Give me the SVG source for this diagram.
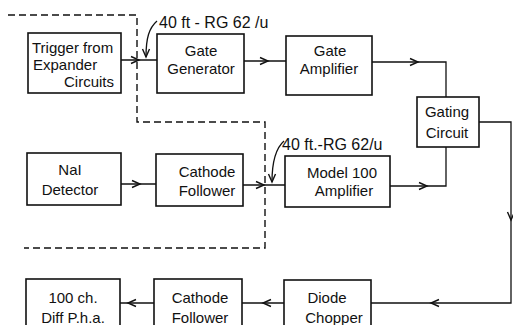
<svg xmlns="http://www.w3.org/2000/svg" width="513" height="325" viewBox="0 0 513 325">
<style>
.box{fill:#fff;stroke:#111;stroke-width:1.6}
.t{font-family:"Liberation Sans",Arial,sans-serif;font-size:15px;fill:#111}
.m{text-anchor:middle}
.lbl{font-family:"Liberation Sans",Arial,sans-serif;font-size:16px;fill:#111}
.ln{fill:none;stroke:#111;stroke-width:1.3}
.dash{fill:none;stroke:#111;stroke-width:1.4;stroke-dasharray:7 4}
.ah{fill:none;stroke:#111;stroke-width:1.4}
</style>
<defs>
<path id="ah" class="ah" d="M-8 -3.5 L0 0 L-8 3.5"/>
</defs>
<rect width="513" height="325" fill="#fff"/>
<path class="dash" d="M8 15 H137 V122 H265 V248 H24"/>
<g id="connectors">
<path class="ln" d="M121 60 H157"/><use href="#ah" transform="translate(139,60)"/>
<path class="ln" d="M244 61 H286"/><use href="#ah" transform="translate(268,61)"/>
<path class="ln" d="M372 62 H446 V97"/><use href="#ah" transform="translate(418,62)"/>
<path class="ln" d="M479 122 H511 V303 H371"/><use href="#ah" transform="translate(511,220) rotate(90)"/><use href="#ah" transform="translate(431,303) rotate(180)"/>
<path class="ln" d="M121 184 H156"/><use href="#ah" transform="translate(140,184)"/>
<path class="ln" d="M243 185 H285"/><use href="#ah" transform="translate(264,185)"/>
<path class="ln" d="M390 186 H446 V147"/><use href="#ah" transform="translate(427,186)"/>
<path class="ln" d="M284 303 H242"/><use href="#ah" transform="translate(263,303) rotate(180)"/>
<path class="ln" d="M154 303 H120"/><use href="#ah" transform="translate(128,303) rotate(180)"/>
<path class="ln" d="M157 21 C149 28 146 38 146 57"/><use href="#ah" transform="translate(146,57) rotate(90)"/>
<path class="ln" d="M284 141 C276 148 272 160 272 182"/><use href="#ah" transform="translate(272,182) rotate(90)"/>
</g>
<text class="lbl" x="159" y="28">40 ft - RG 62 /u</text>
<text class="lbl" x="282" y="150">40 ft.-RG 62/u</text>
<g id="trigger"><rect class="box" x="28" y="33" width="93" height="60"/>
<text class="t" x="32" y="53">Trigger from</text><text class="t" x="33" y="70">Expander</text><text class="t" x="114" y="87" text-anchor="end">Circuits</text></g>
<g id="gategen"><rect class="box" x="157" y="34" width="87" height="59"/>
<text class="t m" x="201" y="56">Gate</text><text class="t m" x="201" y="74">Generator</text></g>
<g id="gateamp"><rect class="box" x="286" y="36" width="86" height="59"/>
<text class="t m" x="330" y="56">Gate</text><text class="t m" x="329" y="74">Amplifier</text></g>
<g id="gating"><rect class="box" x="417" y="97" width="62" height="50"/>
<text class="t m" x="447" y="117">Gating</text><text class="t m" x="447" y="138">Circuit</text></g>
<g id="nai"><rect class="box" x="27" y="153" width="94" height="52"/>
<text class="t m" x="70" y="175">NaI</text><text class="t m" x="70" y="195">Detector</text></g>
<g id="cathode1"><rect class="box" x="156" y="154" width="87" height="52"/>
<text class="t m" x="207" y="177">Cathode</text><text class="t m" x="207" y="196">Follower</text></g>
<g id="model100"><rect class="box" x="285" y="156" width="105" height="51"/>
<text class="t m" x="342" y="178">Model 100</text><text class="t m" x="344" y="196">Amplifier</text></g>
<g id="pha"><rect class="box" x="26" y="279" width="94" height="60"/>
<text class="t m" x="73" y="303">100 ch.</text><text class="t m" x="73" y="323">Diff  P.h.a.</text></g>
<g id="cathode2"><rect class="box" x="154" y="279" width="88" height="60"/>
<text class="t m" x="200" y="303">Cathode</text><text class="t m" x="200" y="323">Follower</text></g>
<g id="diode"><rect class="box" x="284" y="280" width="87" height="60"/>
<text class="t m" x="327" y="303">Diode</text><text class="t m" x="334" y="323">Chopper</text></g>
</svg>
